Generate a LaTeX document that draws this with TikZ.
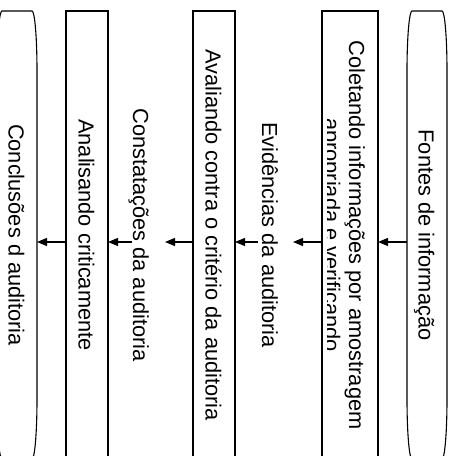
\documentclass[tikz,border=0pt]{standalone}
\usepackage{fontspec}
\setmainfont{Liberation Sans}
\usetikzlibrary{arrows.meta}
\begin{document}
\begin{tikzpicture}[x=1pt, y=1pt, line width=1.1pt,
  etapa/.style={rotate=-90, inner sep=0pt, outer sep=0pt, minimum width=448pt,
    text height=17pt, text depth=0pt, font=\fontsize{21.8}{24.5}\selectfont},
  quadro/.style={etapa, draw},
  seta/.style={-{Triangle[length=10pt, width=8pt]}}]
\useasboundingbox (0,0) rectangle (455,456);
\clip (0,0) rectangle (455,456);
\node[etapa, minimum height=40pt] (et0) at (427,221) {Fontes de informação};
\begin{scope}
\clip (327,0) rectangle (373,456);
\node[etapa, minimum height=56pt, text height=51pt, align=center] (et1) at (350,221) {Coletando informações por amostragem\\apropriada e verificando};
\end{scope}
\draw (et1.south west) rectangle (et1.north east);
\node[etapa, minimum height=35pt, text height=27pt] (et2) at (275.5,221) {Evidências da auditoria};
\node[quadro, minimum height=42pt] (et3) at (214,221) {Avaliando contra o critério da auditoria};
\node[etapa, minimum height=33pt, text height=31pt] (et4) at (148.5,221) {Constatações da auditoria};
\node[quadro, minimum height=42pt] (et5) at (87,221) {Analisando criticamente};
\node[etapa, minimum height=40pt] (et6) at (17,221) {Conclusões d auditoria};
\foreach \n in {et0,et6}
  \draw ([yshift=-60pt]\n.south west) arc[start angle=180, end angle=90, x radius=5pt, y radius=60pt]
    -- ([xshift=-5pt]\n.north west) arc[start angle=90, end angle=0, x radius=5pt, y radius=60pt]
    -- ([yshift=60pt]\n.north east) arc[start angle=0, end angle=-90, x radius=5pt, y radius=60pt]
    -- ([xshift=5pt]\n.south east) arc[start angle=270, end angle=180, x radius=5pt, y radius=60pt]
    -- cycle;
\foreach \a/\b in {et0/et1,et1/et2,et2/et3,et3/et4,et4/et5,et5/et6}
  \draw[seta] ([yshift=-7pt]\a.south) -- ([yshift=-7pt]\b.north);
\end{tikzpicture}
\end{document}
